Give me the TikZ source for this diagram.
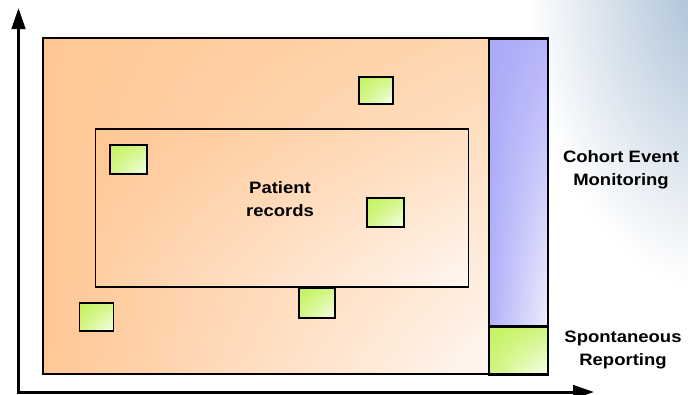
\documentclass[tikz,border=0pt]{standalone}
\usepackage{fontspec}
\setmainfont{Liberation Sans}
\newfontfamily\labelfont[FakeStretch=1.12]{Liberation Sans}
\usetikzlibrary{arrows.meta,shadings}
\usepackage{xcolor}
\definecolor{ink}{HTML}{000000}
\definecolor{sky}{HTML}{A3BBD3}
\definecolor{peachA}{HTML}{FFC795}
\definecolor{peachB}{HTML}{FFD6B0}
\definecolor{peachC}{HTML}{FFF7F2}
\definecolor{violetA}{HTML}{A8A8F8}
\definecolor{violetB}{HTML}{EEEEFD}
\definecolor{limeA}{HTML}{C4F25E}
\definecolor{limeB}{HTML}{F6FFEE}
\tikzset{
  >=Latex,
  every node/.style={text=ink},
  area/.style={draw=ink,line width=2.6pt,inner sep=0pt,outer sep=0pt,
    upper left=peachA,upper right=peachB,lower left=peachA,lower right=peachC},
  cemstrip/.style={area,upper left=violetA,upper right=violetA!85!white,lower left=violetA!90!white,lower right=violetB},
  srbox/.style={area,upper left=limeA,upper right=limeA!80!white,lower left=limeA!80!white,lower right=limeB},
  rec/.style={draw=ink,line width=1.8pt,inner sep=0pt,outer sep=0pt,
    upper left=limeA,upper right=limeA!75!white,lower left=limeA!75!white,lower right=limeB},
  axis/.style={line width=3pt,draw=ink,-{Triangle[length=21pt,width=13.5pt]}},
  tag/.style={font=\labelfont\fontsize{16.5}{22.5}\selectfont\bfseries,align=center,inner sep=0pt},
}

\begin{document}
\begin{tikzpicture}[x=1pt,y=-1pt]
  \useasboundingbox (0,0) rectangle (688,394);
  % slide background
  \begin{scope}
    \clip (0,0) rectangle (688,394);
    \shade[inner color=sky,outer color=white] (715,-30) ellipse (190 and 320);
  \end{scope}
  % population and the records inside it
  \node[area,minimum width=446,minimum height=336] (pop) at (266,206) {};
  \node[area,line width=1.8pt,minimum width=373,minimum height=158,
    upper left=peachA,upper right=peachB!80!white,lower left=peachA!85!white,lower right=peachC] (records) at (282,208) {};
  \node[tag] (recordslabel) at (280,199) {Patient\\records};
  % single cases
  \node[rec,minimum width=34,minimum height=27] (r1) at (376,90.5) {};
  \node[rec,minimum width=37,minimum height=29] (r2) at (128.5,159.5) {};
  \node[rec,minimum width=37,minimum height=29] (r3) at (385.5,212.5) {};
  \node[rec,minimum width=34,minimum height=28] (r4) at (96.5,317) {};
  \node[rec,minimum width=36,minimum height=30] (r5) at (317,303) {};
  % monitoring schemes
  \node[cemstrip,minimum width=59,minimum height=288] (cem) at (518.5,182.5) {};
  \node[srbox,minimum width=59,minimum height=48] (sr) at (518.5,350.5) {};
  \node[tag] (cemlabel) at (621,170) {Cohort Event\\Monitoring};
  \node[tag] (srlabel) at (623,350) {Spontaneous\\Reporting};
  % axes
  \coordinate (origin) at (18.5,392);
  \coordinate (ytip) at (18.5,8);
  \coordinate (xtip) at (594,392);
  \draw[axis] ([yshift=-1.5pt]origin) -- (ytip);
  \draw[axis] ([xshift=-1.5pt]origin) -- (xtip);
\end{tikzpicture}
\end{document}
